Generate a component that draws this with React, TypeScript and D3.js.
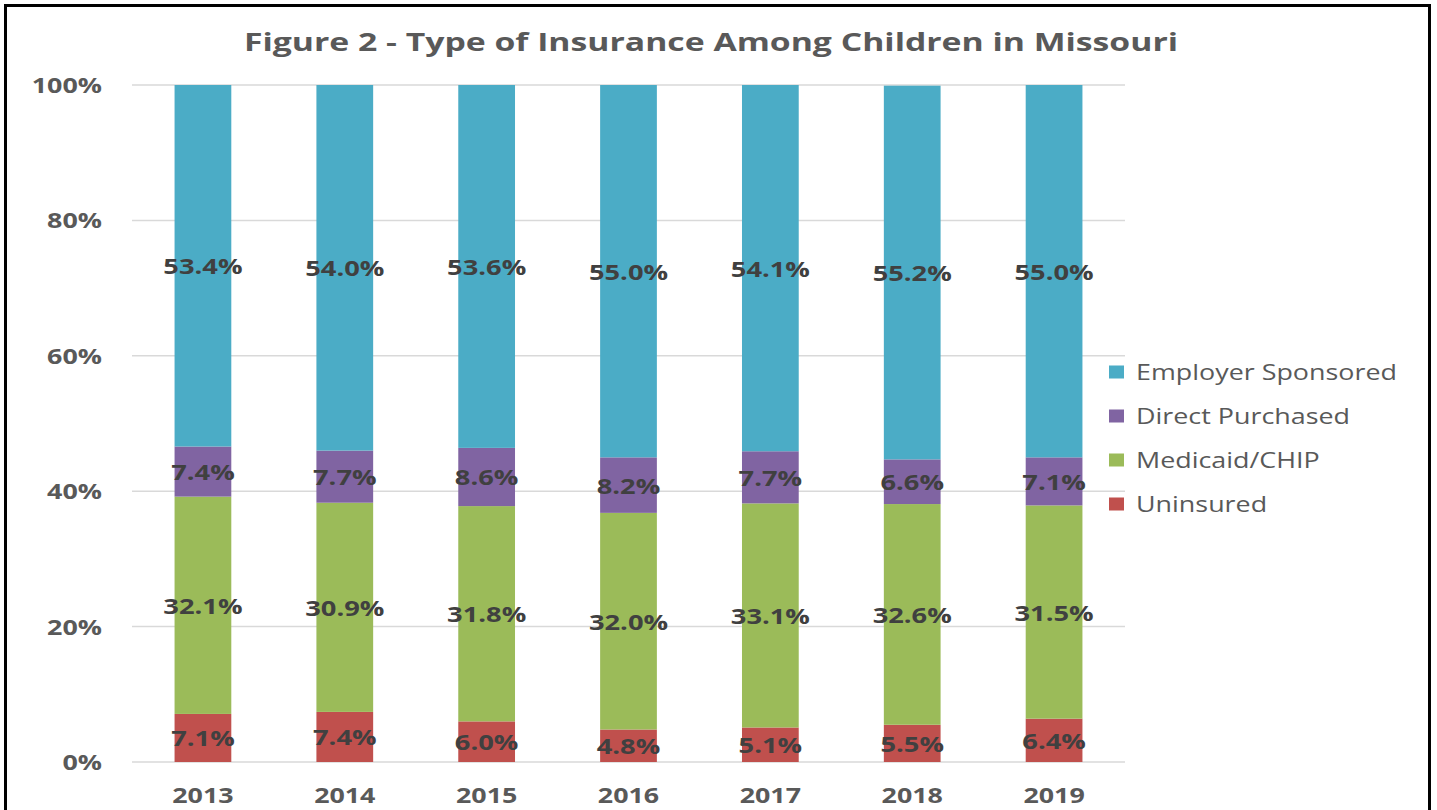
import React from "react";
import * as d3 from "d3";

const years = ["2013", "2014", "2015", "2016", "2017", "2018", "2019"];
const seriesNames = ["Uninsured", "Medicaid/CHIP", "Direct Purchased", "Employer Sponsored"];
const uninsured = [7.1, 7.4, 6.0, 4.8, 5.1, 5.5, 6.4];
const medicaid = [32.1, 30.9, 31.8, 32.0, 33.1, 32.6, 31.5];
const direct = [7.4, 7.7, 8.6, 8.2, 7.7, 6.6, 7.1];
const employer = [53.4, 54.0, 53.6, 55.0, 54.1, 55.2, 55.0];
const colors = ["#C0504D", "#9BBB59", "#8064A2", "#4BACC6"];
const yTicks = [0, 20, 40, 60, 80, 100];
const legendOrder = ["Employer Sponsored", "Direct Purchased", "Medicaid/CHIP", "Uninsured"];
const title = "Figure 2 - Type of Insurance Among Children in Missouri";

const FONT = "'Open Sans', sans-serif";

function T(props: {
  x: number; y: number; sx: number; size: number; weight?: string | number;
  anchor?: string; fill: string; children: React.ReactNode;
}) {
  const { x, y, sx, size, weight = "normal", anchor = "start", fill, children } = props;
  return (
    <text
      transform={`translate(${x},${y}) scale(${sx},1)`}
      fontFamily={FONT}
      fontSize={size}
      fontWeight={weight}
      textAnchor={anchor}
      fill={fill}
    >
      {children}
    </text>
  );
}

export default function App() {
  const W = 1437, H = 810;
  const left = 132, right = 1125, top = 85, bottom = 762;
  const x = d3.scaleBand<string>().domain(years).range([left, right]).paddingInner(0.6).paddingOuter(0.3);
  const y = d3.scaleLinear().domain([0, 100]).range([bottom, top]);

  const table = years.map((yr, i) => ({
    year: yr,
    "Uninsured": uninsured[i],
    "Medicaid/CHIP": medicaid[i],
    "Direct Purchased": direct[i],
    "Employer Sponsored": employer[i],
  }));
  const stack = d3.stack<any>().keys(seriesNames)(table);

  return (
    <svg width={W} height={H} style={{ position: "absolute", left: 0, top: 0, background: "#fff" }}>
      <rect x={0} y={0} width={W} height={H} fill="#fff" />
      {yTicks.map((t) => (
        <line key={t} x1={left} x2={right} y1={y(t)} y2={y(t)} stroke="#D9D9D9" strokeWidth={1.5} />
      ))}
      {stack.map((s, si) =>
        s.map((d, i) => (
          <rect
            key={`${si}-${i}`}
            x={x(years[i])}
            width={x.bandwidth()}
            y={y(d[1])}
            height={y(d[0]) - y(d[1])}
            fill={colors[si]}
          />
        ))
      )}
      {stack.map((s, si) =>
        s.map((d, i) => (
          <T
            key={`l${si}-${i}`}
            x={(x(years[i]) as number) + x.bandwidth() / 2}
            y={(y(d[0]) + y(d[1])) / 2 + 8.5}
            sx={1.3}
            size={21}
            weight={700}
            anchor="middle"
            fill="#404040"
          >
            {(d[1] - d[0]).toFixed(1)}%
          </T>
        ))
      )}
      {yTicks.map((t) => (
        <T key={`y${t}`} x={102} y={y(t) + 8} sx={1.28} size={21} weight={700} anchor="end" fill="#595959">
          {t}%
        </T>
      ))}
      {years.map((yr) => (
        <T key={`x${yr}`} x={(x(yr) as number) + x.bandwidth() / 2} y={803} sx={1.22} size={22} weight={700} anchor="middle" fill="#595959">
          {yr}
        </T>
      ))}
      <T x={711} y={51} sx={1.35} size={25} weight={700} anchor="middle" fill="#595959">
        {title}
      </T>
      {legendOrder.map((name, i) => {
        const cy = 372 + i * 44;
        const ci = seriesNames.indexOf(name);
        return (
          <g key={name}>
            <rect x={1109} y={cy - 6.5} width={15} height={13} fill={colors[ci]} />
            <T x={1136} y={cy + 8} sx={1.28} size={21} fill="#595959">
              {name}
            </T>
          </g>
        );
      })}
      <rect x={5.5} y={5.5} width={1424} height={830} fill="none" stroke="#000" strokeWidth={3} />
    </svg>
  );
}
